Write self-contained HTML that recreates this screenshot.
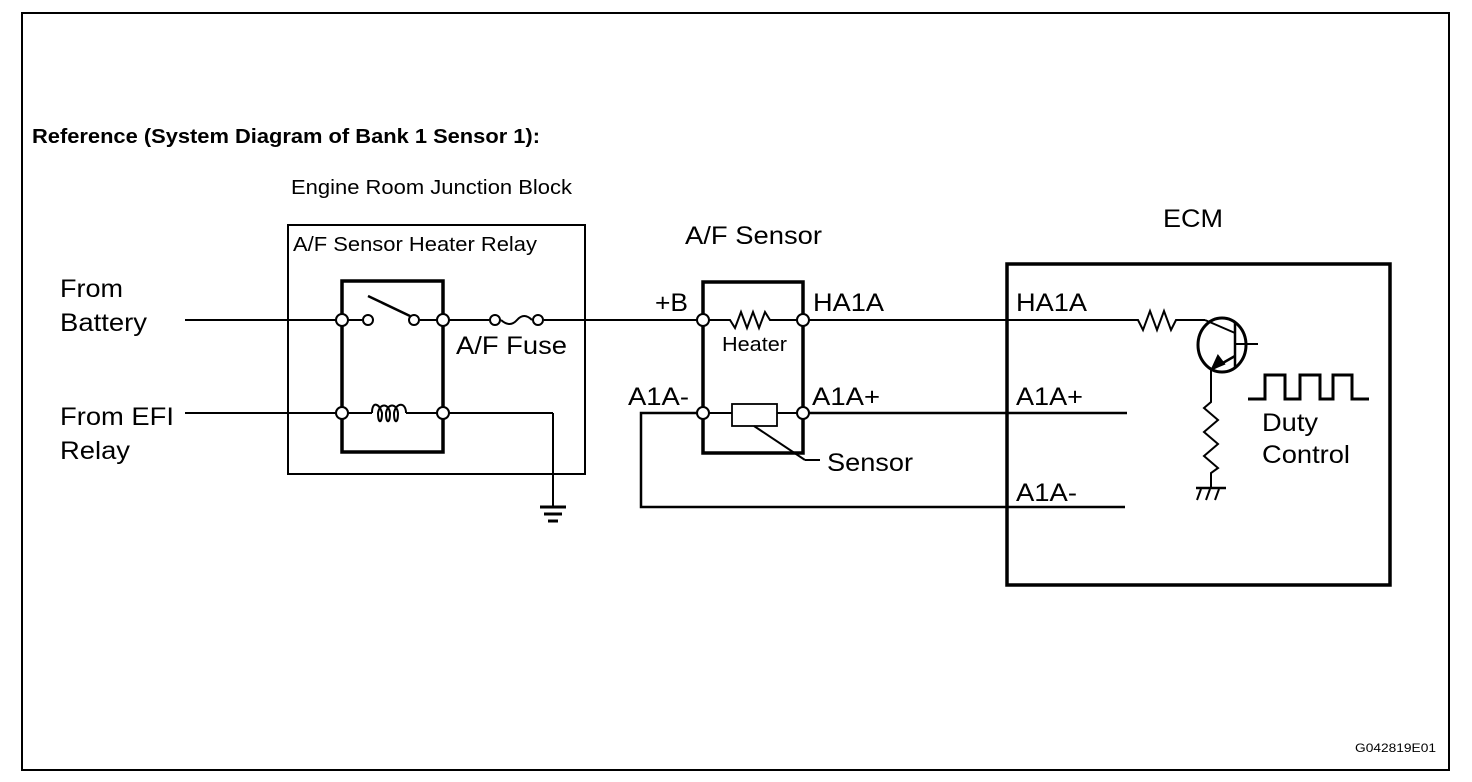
<!DOCTYPE html>
<html><head><meta charset="utf-8"><style>
html,body{margin:0;padding:0;background:#fff;}
svg{display:block;}
text{font-family:"Liberation Sans",Arial,sans-serif;fill:#000;}
</style></head><body>
<svg width="1472" height="782" viewBox="0 0 1472 782" xmlns="http://www.w3.org/2000/svg">
<rect x="22" y="13" width="1427" height="757" fill="none" stroke="#000" stroke-width="2"/>
<text x="32" y="143" font-size="20" font-weight="bold" textLength="508" lengthAdjust="spacingAndGlyphs">Reference (System Diagram of Bank 1 Sensor 1):</text>
<text x="291" y="194" font-size="20" textLength="281" lengthAdjust="spacingAndGlyphs">Engine Room Junction Block</text>

<!-- Relay -->
<rect x="288" y="225" width="297" height="249" fill="none" stroke="#000" stroke-width="2"/>
<text x="293" y="251" font-size="20" textLength="244" lengthAdjust="spacingAndGlyphs">A/F Sensor Heater Relay</text>
<rect x="342" y="281" width="101" height="171" fill="none" stroke="#000" stroke-width="3.5"/>
<g stroke="#000" stroke-width="2" fill="none">
<line x1="185" y1="320" x2="362" y2="320"/>
<line x1="420" y1="320" x2="489" y2="320"/>
<path d="M501 320 Q510 328 517 320 Q524 312 532 320"/>
<line x1="544" y1="320" x2="703" y2="320"/>
<line x1="368" y1="296" x2="410" y2="316" stroke-width="2.5"/>
<line x1="185" y1="413" x2="372" y2="413"/>
<path d="M372 413 C372 400 380 404 382 413 C382 424 378 424 378 413 C380 402 389 404 390 413 C390 424 386 424 386 413 C388 402 397 404 398 413 C398 424 394 424 394 413 C396 402 406 402 406 413"/>
<line x1="406" y1="413" x2="553" y2="413"/>
<line x1="553" y1="413" x2="553" y2="506"/>
<line x1="540" y1="507" x2="566" y2="507" stroke-width="3"/>
<line x1="544" y1="514" x2="562" y2="514" stroke-width="3"/>
<line x1="548" y1="521" x2="558" y2="521" stroke-width="3"/>
</g>
<g stroke="#000" stroke-width="2" fill="#fff">
<circle cx="342" cy="320" r="6"/><circle cx="368" cy="320" r="5"/><circle cx="414" cy="320" r="5"/><circle cx="443" cy="320" r="6"/>
<circle cx="495" cy="320" r="5"/><circle cx="538" cy="320" r="5"/>
<circle cx="342" cy="413" r="6"/><circle cx="443" cy="413" r="6"/>
</g>
<text x="60" y="297" font-size="25" textLength="63" lengthAdjust="spacingAndGlyphs">From</text>
<text x="60" y="331" font-size="25" textLength="87" lengthAdjust="spacingAndGlyphs">Battery</text>
<text x="60" y="425" font-size="25" textLength="114" lengthAdjust="spacingAndGlyphs">From EFI</text>
<text x="60" y="459" font-size="25" textLength="70" lengthAdjust="spacingAndGlyphs">Relay</text>
<text x="456" y="354" font-size="25" textLength="111" lengthAdjust="spacingAndGlyphs">A/F Fuse</text>

<!-- A/F Sensor -->
<text x="685" y="244" font-size="25" textLength="137" lengthAdjust="spacingAndGlyphs">A/F Sensor</text>
<rect x="703" y="282" width="100" height="171" fill="none" stroke="#000" stroke-width="3.5"/>
<g stroke="#000" stroke-width="2" fill="none">
<path d="M709 320 L730 320 L735 328 L741 312 L747 328 L753 312 L759 328 L765 312 L770 320 L797 320"/>
<line x1="809" y1="320" x2="1135" y2="320"/>
<line x1="709" y1="413" x2="732" y2="413"/>
<rect x="732" y="404" width="45" height="22" stroke-width="1.8"/>
<line x1="777" y1="413" x2="797" y2="413"/>
<line x1="754" y1="426" x2="805" y2="460"/>
<line x1="805" y1="460" x2="820" y2="460"/>
<line x1="809" y1="413" x2="1127" y2="413" stroke-width="2.5"/>
<polyline points="697,413 641,413 641,507 1125,507" stroke-width="2.5"/>
</g>
<g stroke="#000" stroke-width="2" fill="#fff">
<circle cx="703" cy="320" r="6"/><circle cx="803" cy="320" r="6"/><circle cx="703" cy="413" r="6"/><circle cx="803" cy="413" r="6"/>
</g>
<text x="655" y="311" font-size="25" textLength="33" lengthAdjust="spacingAndGlyphs">+B</text>
<text x="813" y="311" font-size="25" textLength="71" lengthAdjust="spacingAndGlyphs">HA1A</text>
<text x="722" y="351" font-size="20" textLength="65" lengthAdjust="spacingAndGlyphs">Heater</text>
<text x="628" y="405" font-size="25" textLength="61" lengthAdjust="spacingAndGlyphs">A1A-</text>
<text x="812" y="405" font-size="25" textLength="68" lengthAdjust="spacingAndGlyphs">A1A+</text>
<text x="827" y="471" font-size="25" textLength="86" lengthAdjust="spacingAndGlyphs">Sensor</text>

<!-- ECM -->
<text x="1163" y="227" font-size="25" textLength="60" lengthAdjust="spacingAndGlyphs">ECM</text>
<rect x="1007" y="264" width="383" height="321" fill="none" stroke="#000" stroke-width="3.5"/>
<text x="1016" y="311" font-size="25" textLength="71" lengthAdjust="spacingAndGlyphs">HA1A</text>
<text x="1016" y="405" font-size="25" textLength="67" lengthAdjust="spacingAndGlyphs">A1A+</text>
<text x="1016" y="501" font-size="25" textLength="61" lengthAdjust="spacingAndGlyphs">A1A-</text>
<g stroke="#000" stroke-width="2" fill="none">
<path d="M1135 320 L1138 320 L1143 330 L1150 311 L1157 330 L1164 311 L1171 330 L1176 320 L1205 320"/>
<ellipse cx="1222" cy="345" rx="24" ry="27" stroke-width="3"/>
<line x1="1235" y1="322" x2="1235" y2="368" stroke-width="2.5"/>
<line x1="1235" y1="344" x2="1258" y2="344"/>
<line x1="1205" y1="320" x2="1235" y2="333"/>
<line x1="1235" y1="356" x2="1214" y2="368" stroke-width="2.5"/>
<polygon points="1212,369 1218,356 1224,364" fill="#000"/>
<path d="M1211 370 L1211 402 L1204 408 L1218 420 L1204 432 L1218 444 L1204 456 L1218 468 L1211 473 L1211 488"/>
<line x1="1196" y1="488" x2="1226" y2="488" stroke-width="2.5"/>
<line x1="1201" y1="489" x2="1197" y2="500"/>
<line x1="1210" y1="489" x2="1206" y2="500"/>
<line x1="1219" y1="489" x2="1215" y2="500"/>
<polyline points="1248,399 1265,399 1265,375 1285,375 1285,399 1300,399 1300,375 1320,375 1320,399 1333,399 1333,375 1352,375 1352,399 1369,399" stroke-width="3"/>
</g>
<text x="1262" y="431" font-size="25" textLength="56" lengthAdjust="spacingAndGlyphs">Duty</text>
<text x="1262" y="463" font-size="25" textLength="88" lengthAdjust="spacingAndGlyphs">Control</text>

<text x="1355" y="752" font-size="12" textLength="81" lengthAdjust="spacingAndGlyphs">G042819E01</text>
</svg>
</body></html>
